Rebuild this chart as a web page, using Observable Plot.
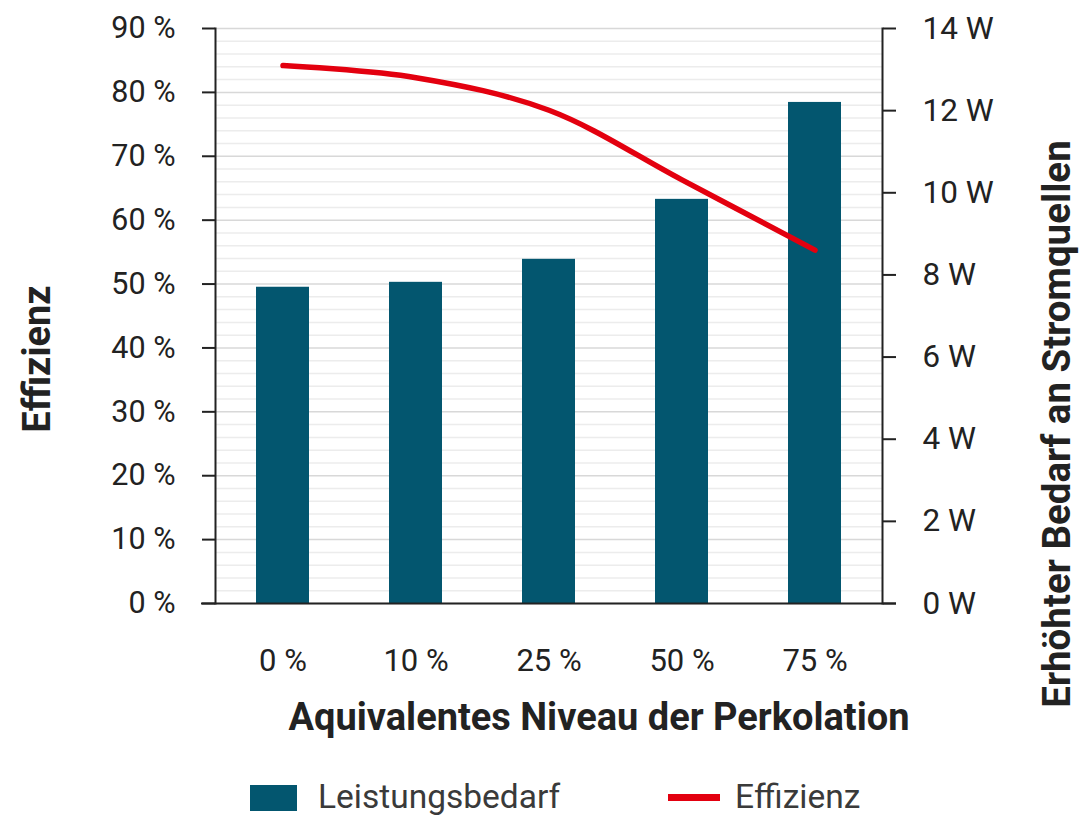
<!DOCTYPE html>
<html>
<head>
<meta charset="utf-8">
<script src="https://cdn.jsdelivr.net/npm/d3@7"></script>
<script src="https://cdn.jsdelivr.net/npm/@observablehq/plot@0.6"></script>
<style>
  html, body { margin: 0; padding: 0; background: #fff; }
  #wrap { position: relative; width: 1079px; height: 816px; font-family: Roboto, sans-serif; overflow: hidden; }
  #chart { position: absolute; left: 0; top: 0; }
  .leg { position: absolute; font-family: Roboto, sans-serif; font-size: 33.5px; color: #3a3a3a; line-height: 1; white-space: nowrap; }
</style>
</head>
<body>
<div id="wrap">
  <div id="chart"></div>
  <div id="legend"></div>
</div>
<script>
// ---- data ----
const categories = ["0 %", "10 %", "25 %", "50 %", "75 %"];
const leistungsbedarf = [7.7, 7.82, 8.38, 9.84, 12.2];   // W
const effizienz = [84.2, 82.3, 77.2, 66.3, 55.3];        // %
const pctTicks = [0, 10, 20, 30, 40, 50, 60, 70, 80, 90];
const pctLabels = ["0 %", "10 %", "20 %", "30 %", "40 %", "50 %", "60 %", "70 %", "80 %", "90 %"];
const wTicks = [0, 2, 4, 6, 8, 10, 12, 14];
const wLabels = ["0 W", "2 W", "4 W", "6 W", "8 W", "10 W", "12 W", "14 W"];
const minorGrid = d3.range(0, 91, 2).filter(v => v % 10 !== 0);
const legendItems = ["Leistungsbedarf", "Effizienz"];
const xTitle = "Aquivalentes Niveau der Perkolation";
const yLeftTitle = "Effizienz";
const yRightTitle = "Erhöhter Bedarf an Stromquellen";

const barColor = "#03566f";
const lineColor = "#e3000f";
const textColor = "#222";

const wMax = 14, pctMax = 90;
const wToPct = w => w * pctMax / wMax;

const bars = categories.map((c, i) => ({cat: c, w: leistungsbedarf[i]}));
const line = categories.map((c, i) => ({cat: c, e: effizienz[i]}));
const wScaled = wTicks.map(wToPct);

const plot = Plot.plot({
  width: 1079,
  height: 770,
  marginLeft: 215,
  marginRight: 197,
  marginTop: 28,
  marginBottom: 167,
  style: {fontFamily: "Roboto, sans-serif", color: textColor, background: "white", overflow: "visible"},
  x: {domain: categories, paddingInner: 0.6, paddingOuter: 0.3},
  y: {domain: [0, pctMax]},
  marks: [
    Plot.ruleY(minorGrid, {stroke: "#ececec", strokeWidth: 1.5}),
    Plot.ruleY(pctTicks, {stroke: "#d8d8d8", strokeWidth: 1.5}),
    Plot.barY(bars, {x: "cat", y: d => wToPct(d.w), fill: barColor}),
    Plot.line(line, {x: "cat", y: "e", stroke: lineColor, strokeWidth: 5.5, curve: "catmull-rom"}),
    Plot.frame({anchor: "left", stroke: "#222", strokeWidth: 2}),
    Plot.frame({anchor: "right", stroke: "#222", strokeWidth: 2}),
    Plot.ruleY([0], {stroke: "#222", strokeWidth: 2, insetLeft: -14, insetRight: -14}),
    Plot.axisY(pctTicks, {
      anchor: "left", tickSize: 13, tickPadding: 27, fontSize: 30.5, label: null,
      tickFormat: d => pctLabels[pctTicks.indexOf(d)], stroke: "#222", strokeWidth: 2, fill: textColor
    }),
    Plot.axisY(wScaled, {
      anchor: "right", tickSize: 13, tickPadding: 27, fontSize: 31.5, label: null,
      tickFormat: d => wLabels[wScaled.indexOf(d)], stroke: "#222", strokeWidth: 2, fill: textColor
    }),
    Plot.axisX({tickSize: 0, tickPadding: 45, fontSize: 31, label: null, fill: textColor}),
    Plot.text([xTitle], {frameAnchor: "bottom", dx: 50, dy: 114, fontSize: 38, fontWeight: "bold",
      fill: textColor, textAnchor: "middle", lineAnchor: "middle"}),
    Plot.text([yLeftTitle], {frameAnchor: "left", dx: -178, dy: 43, rotate: -90, fontSize: 38, fontWeight: "bold",
      fill: textColor, textAnchor: "middle", lineAnchor: "middle"}),
    Plot.text([yRightTitle], {frameAnchor: "right", dx: 175, dy: 108, rotate: -90, fontSize: 38.5, fontWeight: "bold",
      fill: textColor, textAnchor: "middle", lineAnchor: "middle"})
  ]
});
document.getElementById("chart").appendChild(plot);

// ---- legend (HTML, below the SVG) ----
const legend = document.getElementById("legend");
legend.innerHTML = `
  <div style="position:absolute;left:250px;top:785px;width:47px;height:26px;background:${barColor}"></div>
  <div class="leg" style="left:318px;top:780px">${legendItems[0]}</div>
  <div style="position:absolute;left:668px;top:794px;width:52px;height:7px;background:${lineColor}"></div>
  <div class="leg" style="left:735px;top:780px">${legendItems[1]}</div>
`;
</script>
</body>
</html>
